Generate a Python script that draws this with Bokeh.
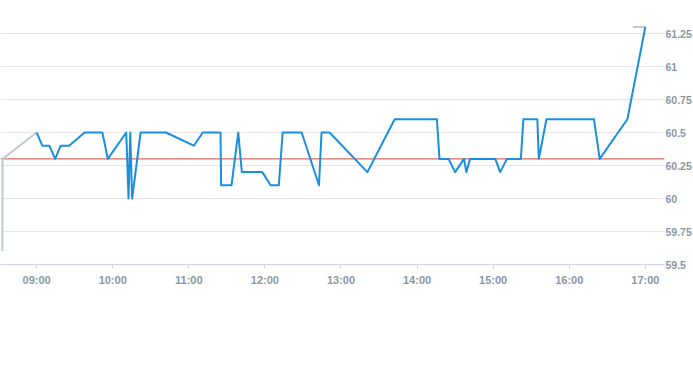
import pandas as pd
from bokeh.plotting import figure
from bokeh.models import ColumnDataSource, Range1d, FixedTicker, DatetimeTickFormatter, NumeralTickFormatter, Span
from bokeh.embed import file_html
from bokeh.resources import INLINE

DAY = "2024-01-02 "

# intraday prices (blue series)
times = ["09:00:00", "09:04:30", "09:10:00", "09:14:40", "09:19:00", "09:25:40", "09:37:50",
         "09:51:50", "09:56:10", "10:10:40", "10:12:30", "10:13:50", "10:15:20", "10:22:00",
         "10:42:00", "11:04:00", "11:11:00", "11:25:00", "11:25:30", "11:33:40", "11:39:00",
         "11:41:50", "11:58:00", "12:04:30", "12:11:00", "12:14:00", "12:29:00", "12:42:40",
         "12:44:40", "12:51:00", "13:20:50", "13:42:20", "14:15:40", "14:17:40", "14:24:50",
         "14:30:00", "14:37:00", "14:38:50", "14:41:50", "15:01:40", "15:05:30", "15:10:50",
         "15:21:50", "15:23:50", "15:34:50", "15:36:00", "15:42:00", "16:19:30", "16:24:00",
         "16:45:50", "17:00:00"]
prices = [60.5, 60.4, 60.4, 60.3, 60.4, 60.4, 60.5,
          60.5, 60.3, 60.5, 60.0, 60.5, 60.0, 60.5,
          60.5, 60.4, 60.5, 60.5, 60.1, 60.1, 60.5,
          60.2, 60.2, 60.1, 60.1, 60.5, 60.5, 60.1,
          60.5, 60.5, 60.2, 60.6, 60.6, 60.3, 60.3,
          60.2, 60.3, 60.2, 60.3, 60.3, 60.2, 60.3,
          60.3, 60.6, 60.6, 60.3, 60.6, 60.6, 60.3,
          60.6, 61.3]

# pre-market (grey)
pre_times = ["08:33:00", "08:33:10", "09:00:00"]
pre_prices = [59.6, 60.3, 60.5]

# post-market (grey)
post_times = ["16:50:10", "17:00:00"]
post_prices = [61.3, 61.3]

prev_close = 60.3

x_ticks = ["09:00", "10:00", "11:00", "12:00", "13:00", "14:00", "15:00", "16:00", "17:00"]
y_ticks = [59.5, 59.75, 60.0, 60.25, 60.5, 60.75, 61.0, 61.25]

def ts(lst):
    return pd.to_datetime([DAY + t for t in lst])

main = ColumnDataSource(dict(x=ts(times), y=prices))
pre = ColumnDataSource(dict(x=ts(pre_times), y=pre_prices))
post = ColumnDataSource(dict(x=ts(post_times), y=post_prices))

x_start = pd.Timestamp(DAY + "08:31:32")
x_end = pd.Timestamp(DAY + "17:15:06")

p = figure(frame_width=664, frame_height=264, x_axis_type="datetime",
           x_range=Range1d(x_start, x_end), y_range=Range1d(59.5, 61.5),
           output_backend="svg", toolbar_location=None, y_axis_location="right",
           min_border_left=0, min_border_top=0, min_border_right=0, min_border_bottom=20)

p.outline_line_color = None
p.background_fill_color = "white"
p.border_fill_color = "white"

label_color = "#8b96a4"
font = "Liberation Sans"

xa = p.xaxis[0]
xa.ticker = FixedTicker(ticks=[pd.Timestamp(DAY + t).value / 1e6 for t in x_ticks])
xa.formatter = DatetimeTickFormatter(hours="%H:%M", minutes="%H:%M", hourmin="%H:%M",
                                     minsec="%H:%M", days="%H:%M")
xa.axis_line_color = "#ccd6eb"
xa.major_tick_line_color = "#ccd6eb"
xa.major_tick_out = 4
xa.major_tick_in = 0
xa.minor_tick_line_color = None
xa.major_label_text_color = label_color
xa.major_label_text_font = font
xa.major_label_text_font_size = "11px"
xa.major_label_text_font_style = "bold"
xa.major_label_standoff = 5

ya = p.yaxis[0]
ya.ticker = FixedTicker(ticks=y_ticks)
ya.formatter = NumeralTickFormatter(format="0.[00]")
ya.axis_line_color = None
ya.major_tick_line_color = None
ya.minor_tick_line_color = None
ya.major_tick_out = 0
ya.major_tick_in = 0
ya.major_label_standoff = 1
ya.major_label_text_color = label_color
ya.major_label_text_font = font
ya.major_label_text_font_size = "10.5px"
ya.major_label_text_font_style = "bold"

p.xgrid.grid_line_color = None
p.ygrid.grid_line_color = "#e6e6e6"
p.ygrid.grid_line_width = 1

p.add_layout(Span(location=prev_close, dimension="width", line_color="#d0453b",
                  line_width=1, level="underlay"))

grey = "#bfc9d1"
p.line("x", "y", source=pre, line_color=grey, line_width=2)
p.line("x", "y", source=post, line_color=grey, line_width=2)
p.line("x", "y", source=main, line_color="#1a8fdf", line_width=2, line_join="round")

open("out.html", "w").write(file_html(p, INLINE))
